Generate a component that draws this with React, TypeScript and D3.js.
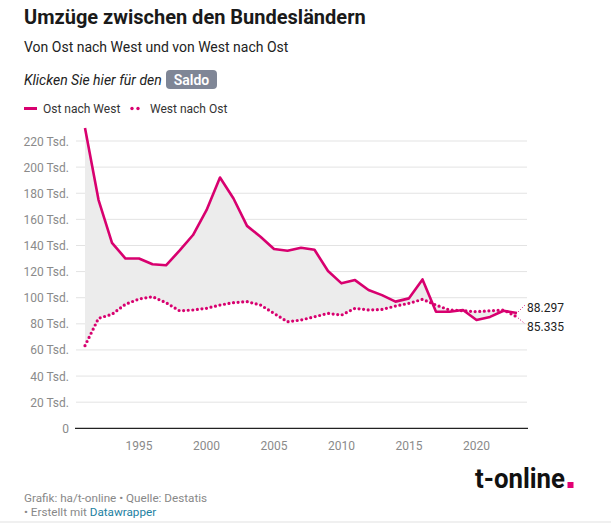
import React from "react";
import * as d3 from "d3";

const years = d3.range(1991, 2024);
const ostNachWest = [230, 175, 142, 130, 130, 125.6, 124.8, 136, 148, 167, 192, 176, 155, 146.7, 137.3, 136, 138.3, 136.7, 120.4, 111, 113.5, 105.9, 102, 97, 99.5, 114, 89.3, 89.3, 90.6, 82.9, 85.3, 90, 88.297];
const westNachOst = [63.3, 84.2, 87.3, 95, 99, 100.8, 96.2, 90, 90.6, 91.9, 94.4, 96.2, 97, 94.4, 88, 81.6, 82.9, 85.4, 88, 86.7, 91.9, 90.6, 91, 93.6, 95.7, 98.8, 94.4, 90.6, 90, 89.3, 90, 90.6, 85.335];
const yTicks = [0, 20, 40, 60, 80, 100, 120, 140, 160, 180, 200, 220];
const xTicks = [1995, 2000, 2005, 2010, 2015, 2020];
const endLabels = ["88.297", "85.335"];

const PINK = "#d8006f";
const FONT = "Roboto, 'Noto Sans', sans-serif";

export default function App() {
  const x = d3.scaleLinear().domain([1991, 2023]).range([85, 517]);
  const y = d3.scaleLinear().domain([0, 220]).range([428.3, 141]);
  const rows = years.map((yr, i) => ({ yr, a: ostNachWest[i], b: westNachOst[i] }));
  const lineA = d3.line<any>().x(d => x(d.yr)).y(d => y(d.a))(rows) || "";
  const lineB = d3.line<any>().x(d => x(d.yr)).y(d => y(d.b))(rows) || "";
  const area = d3.area<any>().x(d => x(d.yr)).y0(d => y(d.b)).y1(d => y(d.a))(rows) || "";
  const lastA = rows[rows.length - 1];
  const ex = x(2023);

  return (
    <svg width={611} height={523} style={{ position: "absolute", left: 0, top: 0, fontFamily: FONT }}>
      <rect width={611} height={523} fill="#fff" />
      <text x={24} y={24} fontSize={20} fontWeight={700} fill="#1a1a1a">Umzüge zwischen den Bundesländern</text>
      <text x={24} y={52} fontSize={14} fill="#222">Von Ost nach West und von West nach Ost</text>
      <text x={24} y={85} fontSize={14} fontStyle="italic" fill="#222">Klicken Sie hier für den</text>
      <rect x={166} y={70} width={51} height={19} rx={4} fill="#7f8696" />
      <text x={191.5} y={85} fontSize={14} fontWeight={600} fill="#fff" textAnchor="middle">Saldo</text>

      <line x1={24} x2={37} y1={108.5} y2={108.5} stroke={PINK} strokeWidth={3} />
      <text x={43} y={113} fontSize={12} fill="#333">Ost nach West</text>
      <circle cx={132} cy={108.5} r={1.7} fill={PINK} />
      <circle cx={138} cy={108.5} r={1.7} fill={PINK} />
      <text x={150} y={113} fontSize={12} fill="#333">West nach Ost</text>

      {yTicks.map(t => (
        <g key={t}>
          {t > 0 && <line x1={76} x2={527} y1={y(t)} y2={y(t)} stroke="#e3e3e3" strokeWidth={1} />}
          <text x={69} y={y(t) + 4.5} fontSize={12} fill="#8a8a8a" textAnchor="end">{t === 0 ? "0" : `${t} Tsd.`}</text>
        </g>
      ))}

      <path d={area} fill="#ececec" />
      <line x1={75} x2={528} y1={y(0)} y2={y(0)} stroke="#222" strokeWidth={1.2} />

      {xTicks.map(t => (
        <text key={t} x={x(t)} y={450} fontSize={12} fill="#8a8a8a" textAnchor="middle">{t}</text>
      ))}

      <path d={lineB} fill="none" stroke={PINK} strokeWidth={3.2} strokeDasharray="0 4.6" strokeLinecap="round" strokeLinejoin="round" />
      <path d={lineA} fill="none" stroke={PINK} strokeWidth={2.6} strokeLinejoin="round" />

      <line x1={ex + 1} y1={y(lastA.a) - 1} x2={ex + 8} y2={y(lastA.a) - 8} stroke={PINK} strokeWidth={1} strokeDasharray="1 2" />
      <line x1={ex + 1} y1={y(lastA.b) + 1} x2={ex + 8} y2={y(lastA.b) + 7} stroke={PINK} strokeWidth={1} strokeDasharray="1 2" />
      <text x={527} y={312} fontSize={12} fill="#222">{endLabels[0]}</text>
      <text x={527} y={331} fontSize={12} fill="#222">{endLabels[1]}</text>

      <text x={475} y={488} fontSize={27} fontWeight={700} fill="#111" textLength={90} lengthAdjust="spacingAndGlyphs">t-online</text>
      <rect x={567.5} y={482} width={6} height={6} fill="#e20074" />

      <text x={24} y={502} fontSize={11.7} fill="#888">Grafik: ha/t-online • Quelle: Destatis</text>
      <text x={24} y={516} fontSize={11.7} fill="#888">
        {" • Erstellt mit "}<tspan fill="#1d81a2">Datawrapper</tspan>
      </text>
      <rect x={0} y={521} width={611} height={2} fill="#f0f0f0" />
    </svg>
  );
}
